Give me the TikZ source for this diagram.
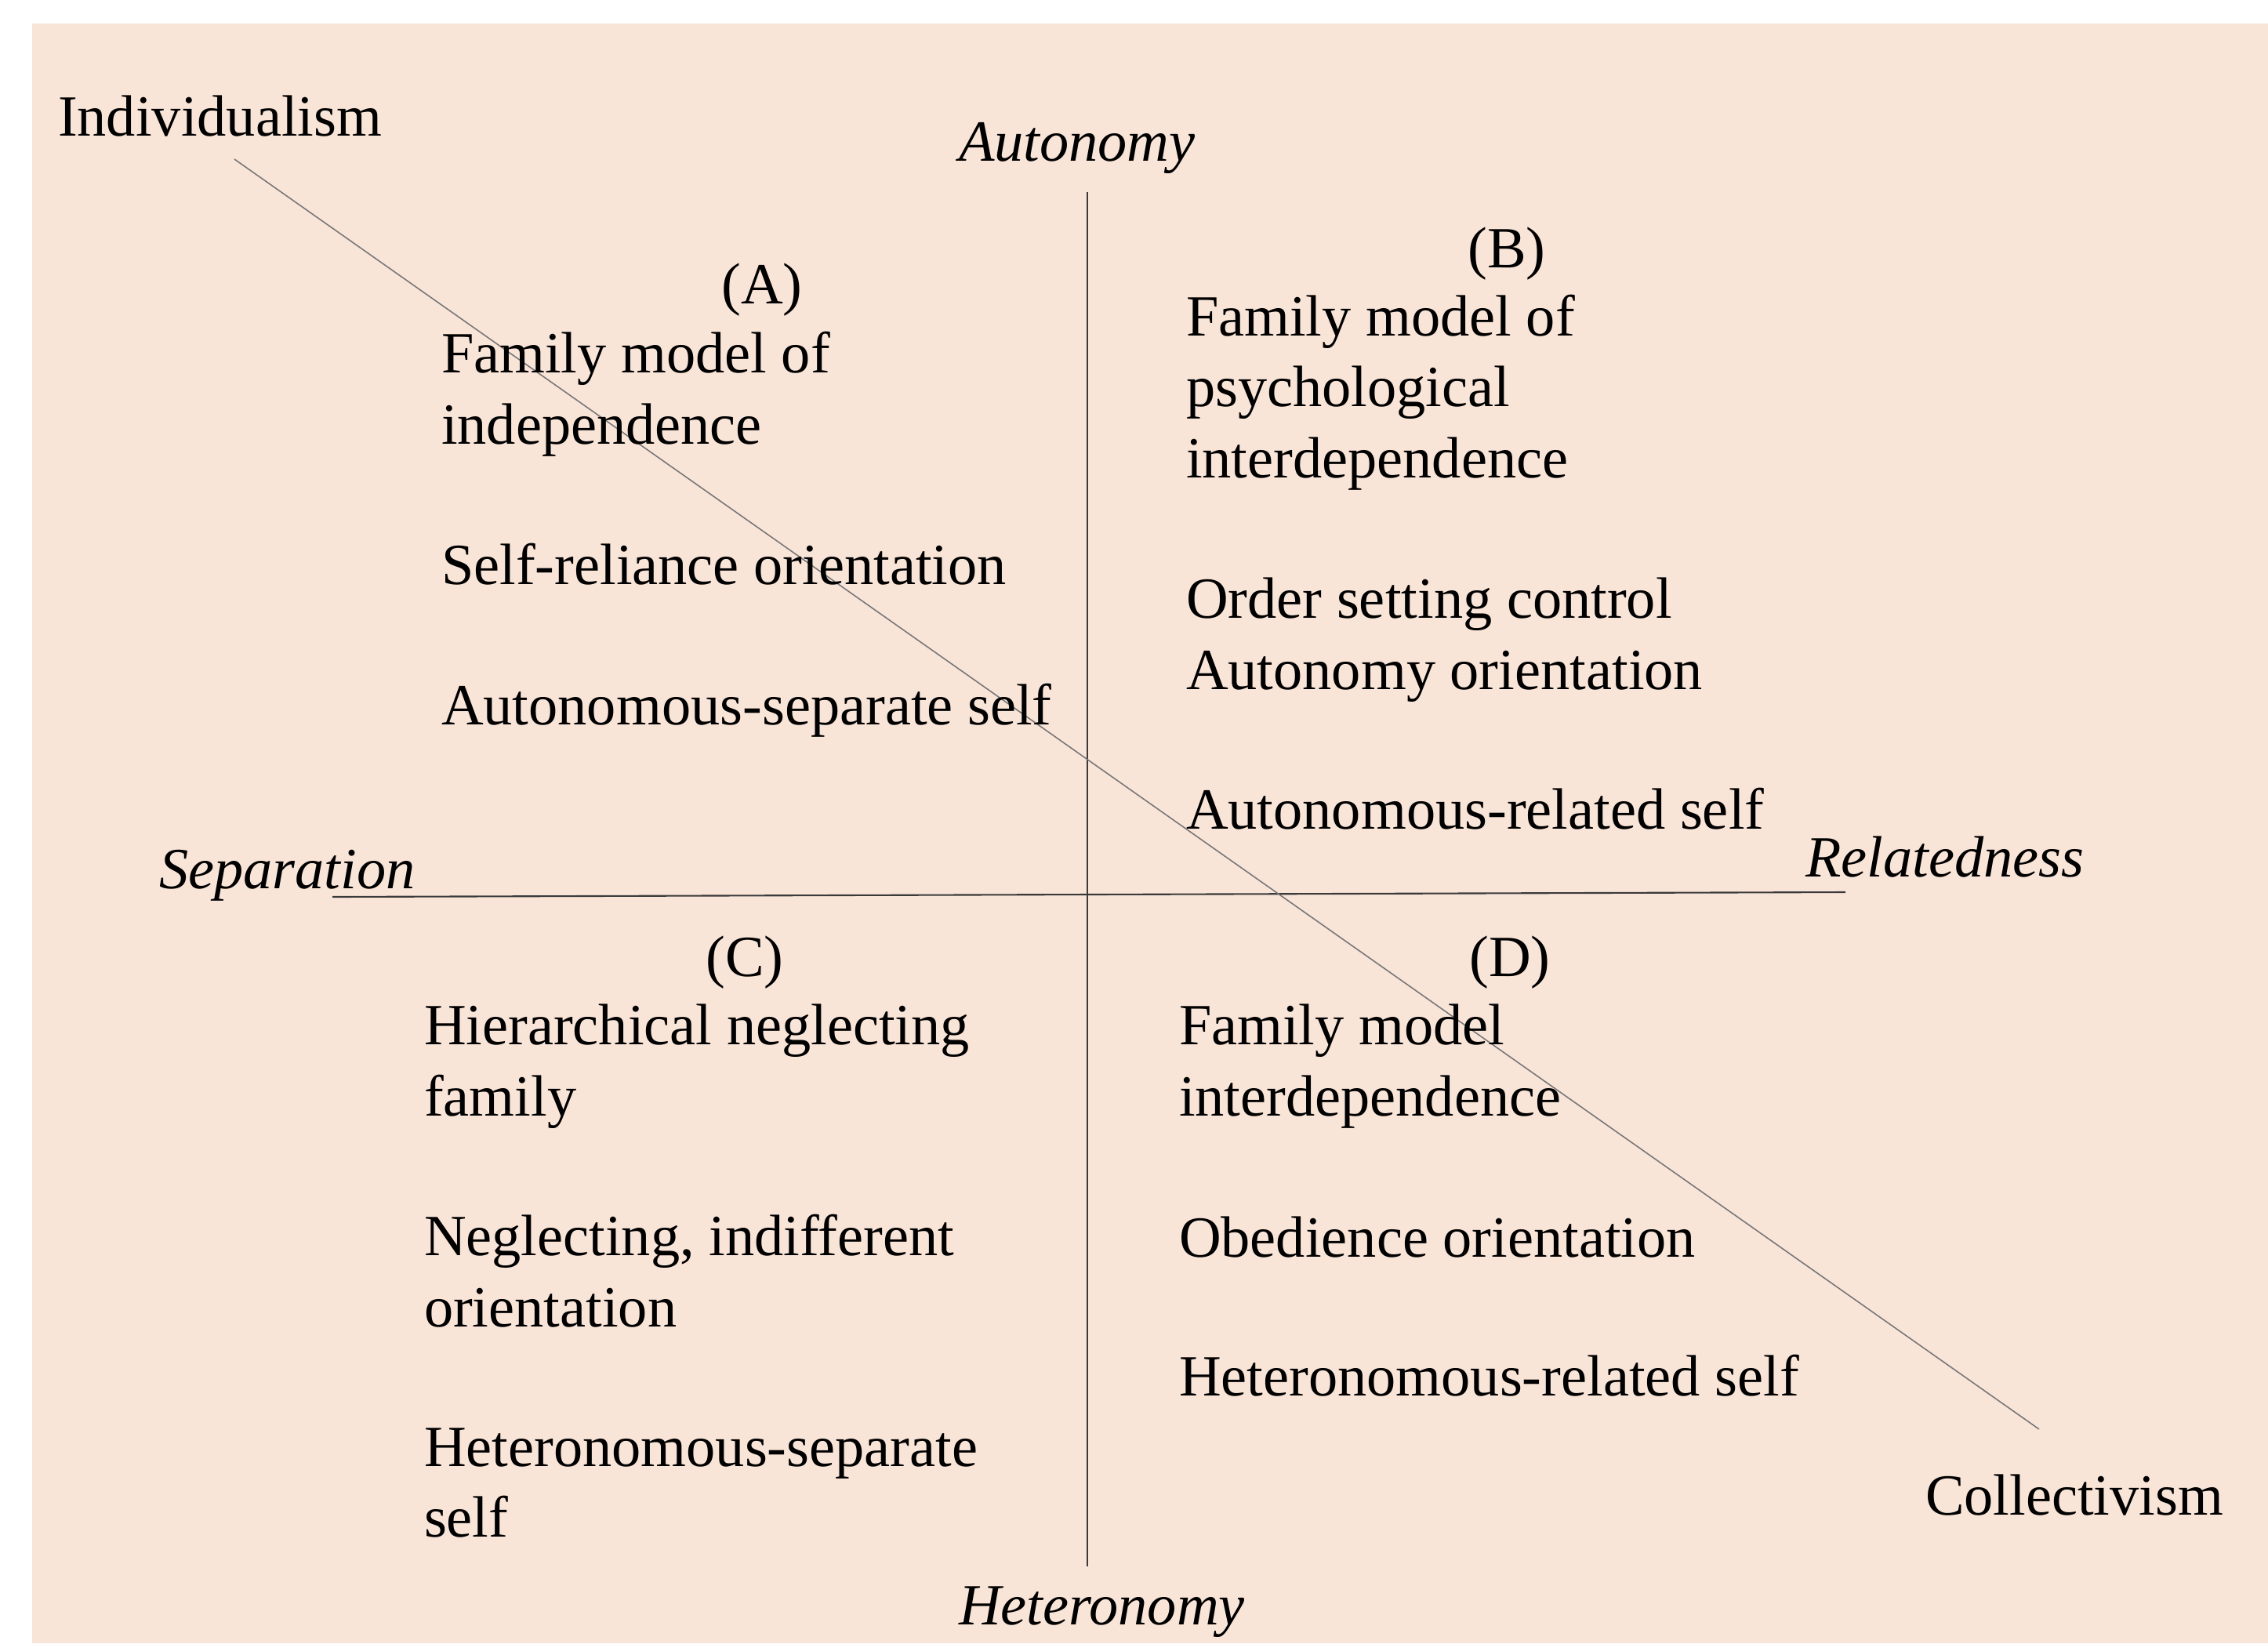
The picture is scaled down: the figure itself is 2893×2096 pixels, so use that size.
\documentclass[tikz,border=0pt]{standalone}
\usepackage{fontspec}
\setmainfont{Liberation Serif}
\definecolor{bgpeach}{HTML}{F9E4D8}
\definecolor{axisc}{HTML}{3A3A3A}
\definecolor{diagc}{HTML}{777777}
\begin{document}
\begin{tikzpicture}[x=0.01cm,y=-0.01cm,
  txt/.style={inner sep=0pt, outer sep=0pt, font=\fontsize{21.15}{25.6}\selectfont, align=left, anchor=base west},
  itl/.style={txt, font=\fontsize{21.15}{25.6}\selectfont\itshape},
  lab/.style={txt, anchor=base},
  axisline/.style={draw=axisc, line width=0.6pt},
  diagline/.style={draw=diagc, line width=0.45pt}]
\useasboundingbox (0,0) rectangle (2893,2096);
\fill[bgpeach] (41,30) rectangle (2893,2096);
% axes
\coordinate (vtop) at (1387,245);
\coordinate (vbot) at (1387,1998);
\coordinate (hleft) at (424,1144);
\coordinate (hright) at (2354,1138);
\coordinate (dstart) at (299,203);
\coordinate (dend) at (2601,1823);
\draw[axisline] (vtop) -- (vbot);
\draw[axisline] (hleft) -- (hright);
\draw[diagline] (dstart) -- (dend);
% poles
\node[txt] (indiv) at (74,173) {Individualism};
\node[txt] (coll) at (2456,1932) {Collectivism};
\node[itl] (auto) at (1223,205) {Autonomy};
\node[itl] (hetero) at (1223,2072) {Heteronomy};
\node[itl] (sep) at (203,1133) {Separation};
\node[itl] (rel) at (2303,1118) {Relatedness};
% quadrant labels
\node[lab] (la) at (972,387) {(A)};
\node[lab] (lb) at (1922,341) {(B)};
\node[lab] (lc) at (950,1245) {(C)};
\node[lab] (ld) at (1926,1245) {(D)};
% A (multi-line nodes are placed at the baseline of their last line)
\node[txt] (a1) at (563,566) {Family model of\\independence};
\node[txt] (a2) at (563,745) {Self-reliance orientation};
\node[txt] (a3) at (563,924) {Autonomous-separate self};
% B
\node[txt] (b1) at (1513,609) {Family model of\\psychological\\interdependence};
\node[txt] (b2) at (1513,879) {Order setting control\\Autonomy orientation};
\node[txt] (b3) at (1513,1057) {Autonomous-related self};
% C
\node[txt] (c1) at (541,1423) {Hierarchical neglecting\\family};
\node[txt] (c2) at (541,1692) {Neglecting, indifferent\\orientation};
\node[txt] (c3) at (541,1960) {Heteronomous-separate\\self};
% D
\node[txt] (d1) at (1504,1423) {Family model\\interdependence};
\node[txt] (d2) at (1504,1603) {Obedience orientation};
\node[txt] (d3) at (1504,1780) {Heteronomous-related self};
\end{tikzpicture}
\end{document}
